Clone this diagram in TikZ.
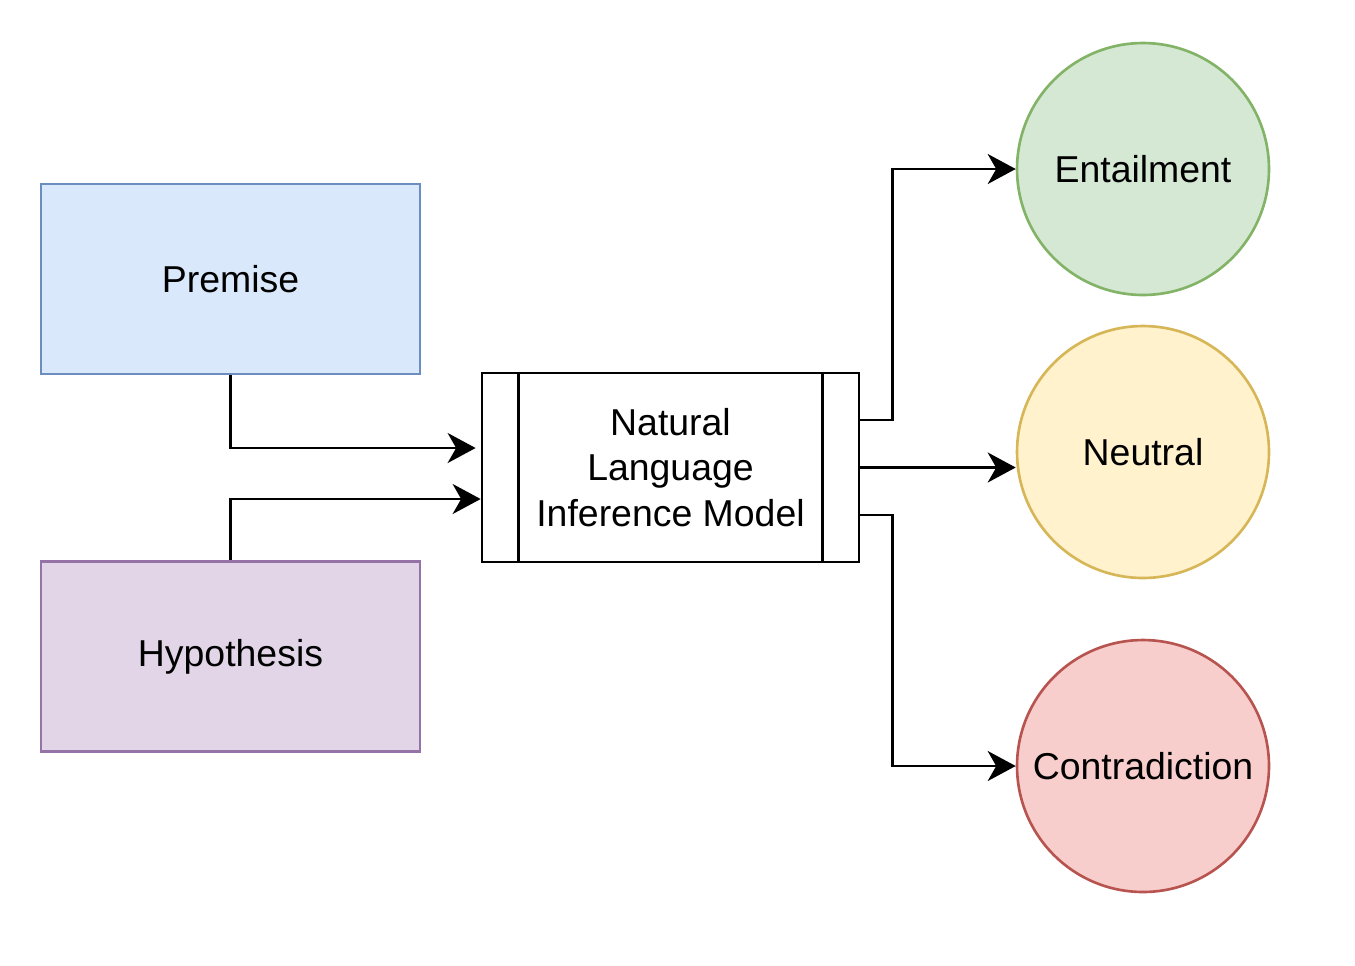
\documentclass[tikz,border=0pt]{standalone}
\usepackage{fontspec}
\setmainfont{Liberation Sans}
\usepackage{tikz}
\usetikzlibrary{arrows.meta,shapes,positioning,calc}
\definecolor{bluefill}{HTML}{DAE8FC}
\definecolor{blueline}{HTML}{6C8EBF}
\definecolor{purplefill}{HTML}{E1D5E7}
\definecolor{purpleline}{HTML}{9673A6}
\definecolor{greenfill}{HTML}{D5E8D4}
\definecolor{greenline}{HTML}{82B366}
\definecolor{yellowfill}{HTML}{FFF2CC}
\definecolor{yellowline}{HTML}{D6B656}
\definecolor{redfill}{HTML}{F8CECC}
\definecolor{redline}{HTML}{B85450}
\tikzstyle{inputbox} = [rectangle, text centered, line width=1.5pt, minimum width=7.58cm, minimum height=3.8cm, font=\fontsize{21.3}{26}\selectfont]
\tikzstyle{modelbox} = [rectangle, align=center, draw=black, line width=1.6pt, minimum width=7.54cm, minimum height=3.78cm, font=\fontsize{21.3}{26}\selectfont]
\tikzstyle{labelnode} = [circle, text centered, line width=1.5pt, minimum size=5.04cm, inner sep=0pt, font=\fontsize{21.3}{26}\selectfont]
\tikzstyle{arrow}   = [line width=1.6pt, -{Stealth[length=0.56cm, width=0.6cm, inset=0.17cm]}]

\begin{document}
\begin{tikzpicture}[x=0.02cm, y=-0.02cm]
            \useasboundingbox (0,0) rectangle (1355,965);
            %Inputs
            \node (premise)    [inputbox, fill=bluefill, draw=blueline]     at (230.5,279)   {Premise};
            \node (hypothesis) [inputbox, fill=purplefill, draw=purpleline] at (230.5,656.5) {Hypothesis};
            %Model
            \node (model)      [modelbox] at (670.5,467.5) {Natural\\Language\\Inference Model};
            \draw [line width=1.6pt] ($(model.north west)+(38,0)$) -- ($(model.south west)+(38,0)$);
            \draw [line width=1.6pt] ($(model.north east)+(-38,0)$) -- ($(model.south east)+(-38,0)$);
            %Outputs
            \node (entailment)    [labelnode, fill=greenfill, draw=greenline]   at (1143,169) {Entailment};
            \node (neutral)       [labelnode, fill=yellowfill, draw=yellowline] at (1143,452) {Neutral};
            \node (contradiction) [labelnode, fill=redfill, draw=redline]       at (1143,766) {Contradiction};
            \coordinate (in_1)  at ($(model.west)+(-5,-19.5)$);
            \coordinate (in_2)  at ($(model.west)+(0,31.5)$);
            \coordinate (out_1) at ($(model.east)+(0,-47.5)$);
            \coordinate (out_2) at ($(model.east)+(0,47.5)$);
            %Connect inputs
            \draw [arrow] (premise.south)    |- (in_1);
            \draw [arrow] (hypothesis.north) |- (in_2);
            %Connect outputs
            \draw [arrow] (out_1) -- ++(32,0) |- (entailment.west);
            \draw [arrow] (model.east) -- (neutral.west |- model.east);
            \draw [arrow] (out_2) -- ++(32,0) |- (contradiction.west);
        \end{tikzpicture}
\end{document}
